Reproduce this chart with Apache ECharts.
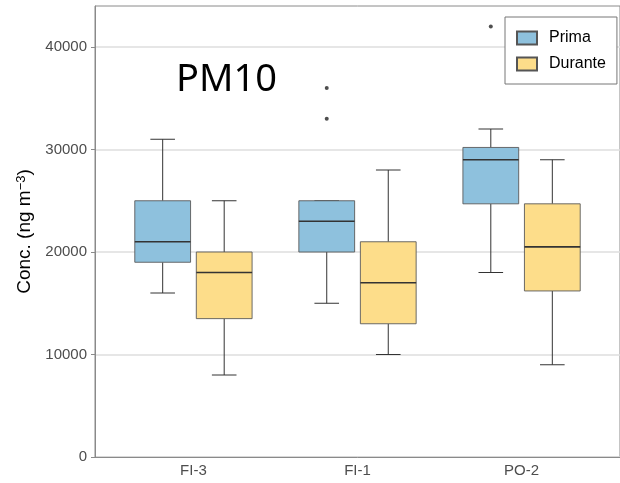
<!DOCTYPE html>
<html>
<head>
<meta charset="utf-8">
<script src="https://cdn.jsdelivr.net/npm/echarts@6/dist/echarts.min.js"></script>
<style>
  html, body { margin: 0; padding: 0; background: #fff; }
  #chart { width: 620px; height: 483px; }
</style>
</head>
<body>
<div id="chart"></div>
<script>
const categories = ['FI-3', 'FI-1', 'PO-2']
const seriesNames = ['Prima', 'Durante']
const yTicks = [0, 10000, 20000, 30000, 40000]

// [min, Q1, median, Q3, max] per category
const primaStats = [
  [16000, 19000, 21000, 25000, 31000],
  [15000, 20000, 23000, 25000, 25000],
  [18000, 24700, 29000, 30200, 32000]
]
const duranteStats = [
  [8000, 13500, 18000, 20000, 25000],
  [10000, 13000, 17000, 21000, 28000],
  [9000, 16200, 20500, 24700, 29000]
]
const primaOutliers = [[], [33000, 36000], [42000]]
const duranteOutliers = [[], [], []]

const colors = ['#8ec1dd', '#fddd8a']
const dodge = 0.1875
const halfBox = 0.17
const halfCap = 0.075

const chart = echarts.init(document.getElementById('chart'))

const boxSeries = (name, stats, offset, color) => ({
  name: name,
  type: 'custom',
  itemStyle: { color: color, borderColor: '#555', borderWidth: 0.8 },
  data: stats.map((s, i) => [i + 1].concat(s)),
  renderItem: (params, api) => {
    const x = api.value(0) + offset
    const lo = api.value(1), q1 = api.value(2), med = api.value(3), q3 = api.value(4), hi = api.value(5)
    const p = (dx, v) => api.coord([x + dx, v])
    const line = (a, b, w, c) => ({
      type: 'line',
      shape: { x1: a[0], y1: a[1], x2: b[0], y2: b[1] },
      style: { stroke: c, lineWidth: w }
    })
    const tl = p(-halfBox, q3), br = p(halfBox, q1)
    return {
      type: 'group',
      children: [
        line(p(0, hi), p(0, q3), 1, '#333'),
        line(p(0, q1), p(0, lo), 1, '#333'),
        line(p(-halfCap, hi), p(halfCap, hi), 1, '#333'),
        line(p(-halfCap, lo), p(halfCap, lo), 1, '#333'),
        {
          type: 'rect',
          shape: { x: tl[0], y: tl[1], width: br[0] - tl[0], height: br[1] - tl[1] },
          style: { fill: color, stroke: '#5a5a5a', lineWidth: 0.9 }
        },
        line(p(-halfBox, med), p(halfBox, med), 1.6, '#333')
      ]
    }
  }
})

const outlierPoints = (list, offset) => {
  const pts = []
  list.forEach((vals, i) => vals.forEach(v => pts.push([i + 1 + offset, v])))
  return pts
}

const option = {
  animation: false,
  backgroundColor: '#fff',
  grid: {
    left: 95,
    top: 6,
    width: 529,
    height: 451,
    show: true,
    borderColor: '#8a8a8a',
    borderWidth: 1
  },
  legend: {
    data: seriesNames,
    orient: 'vertical',
    left: 505,
    top: 17,
    backgroundColor: '#fff',
    borderColor: '#777',
    borderWidth: 1,
    padding: [13, 11, 12, 11],
    itemGap: 10,
    itemWidth: 20,
    itemHeight: 13,
    icon: 'rect',
    textStyle: {
      fontFamily: 'Liberation Sans',
      fontSize: 16,
      color: '#000',
      padding: [0, 0, 0, 7]
    }
  },
  graphic: [
    {
      type: 'text',
      left: 176,
      top: 61,
      style: {
        text: 'PM10',
        fontFamily: 'Noto Sans',
        fontSize: 38,
        fill: '#000'
      }
    }
  ],
  xAxis: {
    type: 'value',
    min: 0.4,
    max: 3.6,
    axisLine: { show: true, lineStyle: { color: '#8a8a8a', width: 1 } },
    axisTick: { show: false },
    splitLine: { show: false },
    axisLabel: {
      customValues: [1, 2, 3],
      formatter: v => categories[Math.round(v) - 1],
      fontFamily: 'Liberation Sans',
      fontSize: 15,
      color: '#4d4d4d',
      margin: 6
    }
  },
  yAxis: {
    type: 'value',
    min: 0,
    max: 44000,
    name: '{n|Conc. (ng m}{s|−3}{n|)}',
    nameLocation: 'middle',
    nameGap: 56,
    nameTextStyle: {
      rich: {
        n: { fontFamily: 'Liberation Sans', fontSize: 19, color: '#000' },
        s: { fontFamily: 'Liberation Sans', fontSize: 13, color: '#000', verticalAlign: 'top', lineHeight: 19 }
      }
    },
    axisLine: { show: true, lineStyle: { color: '#8a8a8a', width: 1 } },
    axisTick: { show: true, length: 4, customValues: yTicks, lineStyle: { color: '#8a8a8a' } },
    axisLabel: {
      customValues: yTicks,
      formatter: v => String(v),
      fontFamily: 'Liberation Sans',
      fontSize: 15,
      color: '#4d4d4d',
      margin: 8
    },
    splitLine: { show: true, lineStyle: { color: '#dedede', width: 1.5 } }
  },
  series: [
    boxSeries(seriesNames[0], primaStats, -dodge, colors[0]),
    boxSeries(seriesNames[1], duranteStats, dodge, colors[1]),
    {
      type: 'scatter',
      symbolSize: 4,
      itemStyle: { color: '#222' },
      data: outlierPoints(primaOutliers, -dodge).concat(outlierPoints(duranteOutliers, dodge))
    }
  ]
}

chart.setOption(option)
</script>
</body>
</html>
